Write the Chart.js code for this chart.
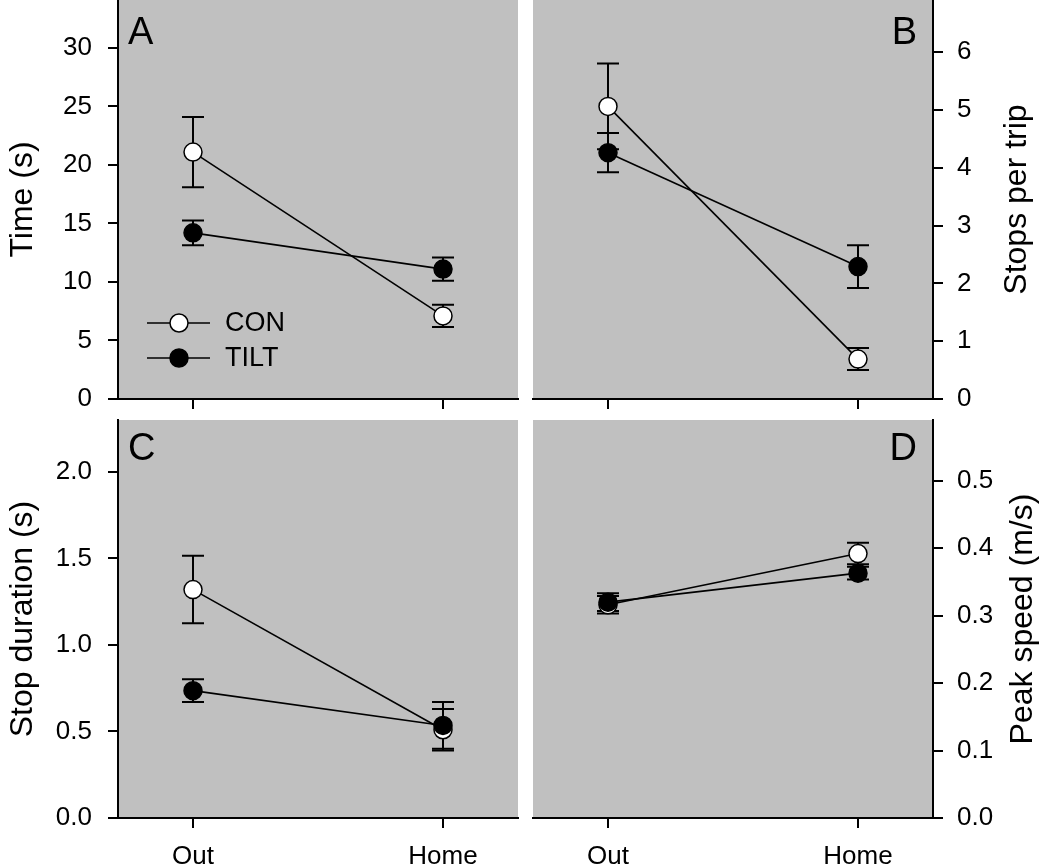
<!DOCTYPE html>
<html>
<head>
<meta charset="utf-8">
<script src="https://cdn.jsdelivr.net/npm/chart.js@4.4.1/dist/chart.umd.min.js"></script>
<style>
  body { margin: 0; background: #fff; }
  #wrap { position: relative; width: 1050px; height: 867px; }
  #wrap canvas { position: absolute; left: 0; top: 0; }
</style>
</head>
<body>
<div id="wrap">
  <canvas id="panelA" width="1050" height="867"></canvas>
  <canvas id="panelB" width="1050" height="867"></canvas>
  <canvas id="panelC" width="1050" height="867"></canvas>
  <canvas id="panelD" width="1050" height="867"></canvas>
</div>
<script>
const categories = ['Out', 'Home'];

// A: time (s)
const timeCon = [21.1, 7.1];
const timeConErr = [3.0, 0.95];
const timeTilt = [14.2, 11.1];
const timeTiltErr = [1.05, 1.0];
const timeTicks = [0, 5, 10, 15, 20, 25, 30];
const timeRange = [0, 34.1];

// B: stops per trip
const stopsCon = [5.06, 0.69];
const stopsConErr = [0.74, 0.19];
const stopsTilt = [4.26, 2.29];
const stopsTiltErr = [0.34, 0.37];
const stopsTicks = [0, 1, 2, 3, 4, 5, 6];
const stopsRange = [0, 6.9];

// C: stop duration (s)
const durationCon = [1.32, 0.51];
const durationConErr = [0.195, 0.12];
const durationTilt = [0.736, 0.535];
const durationTiltErr = [0.066, 0.135];
const durationTicks = [0, 0.5, 1.0, 1.5, 2.0];
const durationRange = [0, 2.3];

// D: peak speed (m/s)
const speedCon = [0.316, 0.392];
const speedConErr = [0.013, 0.016];
const speedTilt = [0.320, 0.363];
const speedTiltErr = [0.013, 0.0095];
const speedTicks = [0, 0.1, 0.2, 0.3, 0.4, 0.5];
const speedRange = [0, 0.59];

const FONT = '"Liberation Sans", Arial, sans-serif';
const GREY = '#c0c0c0';


const backgroundPlugin = {
    id: 'greyBackground',
    beforeDraw(chart) {
        const a = chart.chartArea;
        chart.ctx.save();
        chart.ctx.fillStyle = GREY;
        chart.ctx.fillRect(a.left, a.top, a.right - a.left, a.bottom - a.top);
        chart.ctx.restore();
    }
};


const errorBarPlugin = {
    id: 'errorBars',
    beforeDatasetsDraw(chart) {
        const ctx = chart.ctx;
        const x = chart.scales.x;
        const y = chart.scales.y;
        ctx.save();
        ctx.strokeStyle = '#000';
        ctx.lineWidth = 2;
        chart.data.datasets.forEach(ds => {
            ds.data.forEach((p, i) => {
                const px = x.getPixelForValue(p.x);
                const hi = y.getPixelForValue(p.y + ds.errors[i]);
                const lo = y.getPixelForValue(p.y - ds.errors[i]);
                ctx.beginPath();
                ctx.moveTo(px, hi); ctx.lineTo(px, lo);
                ctx.moveTo(px - 11, hi); ctx.lineTo(px + 11, hi);
                ctx.moveTo(px - 11, lo); ctx.lineTo(px + 11, lo);
                ctx.stroke();
            });
        });
        ctx.restore();
    }
};


const labelPlugin = {
    id: 'panelLabels',
    afterDraw(chart, args, opts) {
        const ctx = chart.ctx;
        const a = chart.chartArea;
        ctx.save();
        ctx.fillStyle = '#000';
        ctx.textBaseline = 'alphabetic';

        // panel letter
        ctx.font = '38px ' + FONT;
        if (opts.letterSide === 'left') {
            ctx.textAlign = 'left';
            ctx.fillText(opts.letter, a.left + 10, a.top + opts.letterY);
        } else {
            ctx.textAlign = 'right';
            ctx.fillText(opts.letter, a.right - 16, a.top + opts.letterY);
        }

        // axis title, reads bottom to top on both sides
        ctx.save();
        ctx.font = '32px ' + FONT;
        ctx.textAlign = 'center';
        ctx.translate(opts.titleX, (a.top + a.bottom) / 2);
        ctx.rotate(-Math.PI / 2);
        ctx.fillText(opts.title, 0, 0);
        ctx.restore();

        if (opts.legend) {
            drawLegend(chart, a);
        }
        ctx.restore();
    }
};


function drawLegend(chart, a) {
    const ctx = chart.ctx;
    const order = ['CON', 'TILT'];
    ctx.font = '27px ' + FONT;
    ctx.textAlign = 'left';
    ctx.textBaseline = 'middle';
    order.forEach((name, i) => {
        const ds = chart.data.datasets.find(d => d.label === name);
        const y = a.top + 323 + i * 35;
        ctx.strokeStyle = '#000';
        ctx.lineWidth = 1.6;
        ctx.beginPath();
        ctx.moveTo(a.left + 29, y);
        ctx.lineTo(a.left + 92, y);
        ctx.stroke();
        ctx.beginPath();
        ctx.arc(a.left + 61, y, 9, 0, Math.PI * 2);
        ctx.fillStyle = ds.pointBackgroundColor;
        ctx.fill();
        ctx.lineWidth = 1.5;
        ctx.stroke();
        ctx.fillStyle = '#000';
        ctx.fillText(name, a.left + 107, y + 1);
    });
}


function series(label, values, errors, fill) {
    return {
        label: label,
        data: values.map((v, i) => ({ x: i, y: v })),
        errors: errors,
        borderColor: '#000',
        borderWidth: 1.6,
        pointRadius: 9,
        pointBorderWidth: 1.5,
        pointBorderColor: '#000',
        pointBackgroundColor: fill,
        tension: 0,
        clip: false
    };
}


function makePanel(id, p) {
    const isLeft = p.side === 'left';
    const isTop = p.row === 0;
    const padding = {
        left: isLeft ? 0 : 533,
        right: isLeft ? 532 : 0,
        top: isTop ? 0 : 420,
        bottom: isTop ? 447 : 0
    };
    return new Chart(document.getElementById(id), {
        type: 'line',
        data: {
            datasets: [
                series('TILT', p.tilt, p.tiltErr, '#000'),
                series('CON', p.con, p.conErr, '#fff')
            ]
        },
        options: {
            responsive: false,
            animation: false,
            devicePixelRatio: 1,
            layout: { padding: padding, autoPadding: false },
            plugins: {
                legend: { display: false },
                tooltip: { enabled: false },
                panelLabels: {
                    letter: p.letter,
                    letterSide: isLeft ? 'left' : 'right',
                    letterY: isTop ? 44 : 40,
                    title: p.title,
                    titleX: p.titleX,
                    legend: p.legend
                }
            },
            scales: {
                x: {
                    type: 'linear',
                    min: -0.3,
                    max: 1.3,
                    afterBuildTicks: s => { s.ticks = categories.map((c, i) => ({ value: i })); },
                    afterFit: s => { s.height = isTop ? 21 : 49; s.paddingLeft = 0; s.paddingRight = 0; },
                    ticks: {
                        padding: 13,
                        color: '#000',
                        font: { family: FONT, size: 26 },
                        callback: v => isTop ? '' : categories[v]
                    },
                    grid: { drawOnChartArea: false, drawTicks: true, tickLength: 10, color: '#000', lineWidth: 2 },
                    border: { display: true, color: '#000', width: 2 }
                },
                y: {
                    type: 'linear',
                    position: isLeft ? 'left' : 'right',
                    min: p.range[0],
                    max: p.range[1],
                    afterBuildTicks: s => { s.ticks = p.ticks.map(v => ({ value: v })); },
                    afterFit: s => { s.width = isLeft ? 118 : 117; s.paddingTop = 0; s.paddingBottom = 0; },
                    ticks: {
                        padding: isLeft ? 16 : 14,
                        color: '#000',
                        font: { family: FONT, size: 26 },
                        callback: v => v.toFixed(p.decimals)
                    },
                    grid: { drawOnChartArea: false, drawTicks: true, tickLength: 10, color: '#000', lineWidth: 2 },
                    border: { display: true, color: '#000', width: 2 }
                }
            }
        },
        plugins: [backgroundPlugin, errorBarPlugin, labelPlugin]
    });
}


makePanel('panelA', {
    side: 'left', row: 0, letter: 'A', title: 'Time (s)', titleX: 32, legend: true,
    con: timeCon, conErr: timeConErr, tilt: timeTilt, tiltErr: timeTiltErr,
    ticks: timeTicks, range: timeRange, decimals: 0
});
makePanel('panelB', {
    side: 'right', row: 0, letter: 'B', title: 'Stops per trip', titleX: 1026, legend: false,
    con: stopsCon, conErr: stopsConErr, tilt: stopsTilt, tiltErr: stopsTiltErr,
    ticks: stopsTicks, range: stopsRange, decimals: 0
});
makePanel('panelC', {
    side: 'left', row: 1, letter: 'C', title: 'Stop duration (s)', titleX: 32, legend: false,
    con: durationCon, conErr: durationConErr, tilt: durationTilt, tiltErr: durationTiltErr,
    ticks: durationTicks, range: durationRange, decimals: 1
});
makePanel('panelD', {
    side: 'right', row: 1, letter: 'D', title: 'Peak speed (m/s)', titleX: 1032, legend: false,
    con: speedCon, conErr: speedConErr, tilt: speedTilt, tiltErr: speedTiltErr,
    ticks: speedTicks, range: speedRange, decimals: 1
});
</script>
</body>
</html>
